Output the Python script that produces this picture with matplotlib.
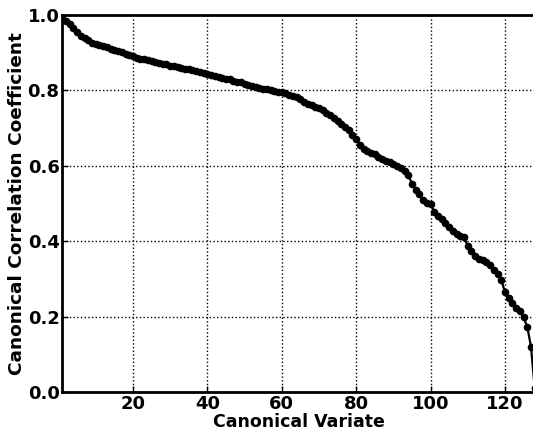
import numpy as np
import matplotlib
matplotlib.use("Agg")
import matplotlib.pyplot as plt

variate = list(range(1, 129))
coef = [
    0.992, 0.983, 0.975, 0.965, 0.955, 0.945, 0.938, 0.933, 0.927, 0.923,
    0.920, 0.917, 0.914, 0.911, 0.907, 0.904, 0.901, 0.897, 0.894, 0.890,
    0.887, 0.884, 0.882, 0.880, 0.878, 0.876, 0.873, 0.871, 0.869, 0.866,
    0.864, 0.862, 0.860, 0.858, 0.856, 0.854, 0.852, 0.849, 0.847, 0.844,
    0.841, 0.838, 0.836, 0.834, 0.831, 0.829, 0.826, 0.823, 0.821, 0.818,
    0.815, 0.812, 0.810, 0.807, 0.805, 0.803, 0.801, 0.799, 0.797, 0.795,
    0.792, 0.789, 0.786, 0.782, 0.777, 0.770, 0.764, 0.760, 0.756, 0.752,
    0.747, 0.741, 0.734, 0.728, 0.720, 0.712, 0.704, 0.694, 0.683, 0.672,
    0.656, 0.645, 0.639, 0.635, 0.630, 0.624, 0.617, 0.612, 0.609, 0.606,
    0.600, 0.594, 0.585, 0.575, 0.553, 0.536, 0.524, 0.509, 0.502, 0.499,
    0.478, 0.468, 0.458, 0.448, 0.437, 0.426, 0.420, 0.415, 0.410, 0.388,
    0.375, 0.362, 0.354, 0.350, 0.345, 0.336, 0.324, 0.312, 0.298, 0.265,
    0.250, 0.236, 0.222, 0.215, 0.198, 0.173, 0.120, 0.010,
]
xticks = [20, 40, 60, 80, 100, 120]
yticks = [0.0, 0.2, 0.4, 0.6, 0.8, 1.0]

fig = plt.figure(figsize=(5.33, 4.36), dpi=100)
W, H = 533, 436
ax = fig.add_axes([62.3 / W, 1 - 392 / H, (534.7 - 62.3) / W, (392 - 15) / H])
ax.plot(variate, coef, color="black", lw=1.6, marker="o", ms=4.5,
        markerfacecolor="black", markeredgecolor="black", clip_on=True)
ax.set_xlim(1, 128)
ax.set_ylim(0, 1.0)
ax.set_xticks(xticks)
ax.set_yticks(yticks)
ax.set_yticklabels([f"{v:.1f}" for v in yticks])
ax.grid(True, color="black", linestyle=":", linewidth=1.0)
for s in ax.spines.values():
    s.set_linewidth(2.0)
ax.tick_params(direction="in", length=4, width=1, labelsize=13, pad=2)
for lab in ax.get_xticklabels() + ax.get_yticklabels():
    lab.set_fontweight("bold")
ax.set_xlabel("Canonical Variate", fontsize=12.5, fontweight="bold", labelpad=0)
ax.set_ylabel("Canonical Correlation Coefficient", fontsize=13.3, fontweight="bold", labelpad=1)
fig.savefig("out.png", dpi=100)
